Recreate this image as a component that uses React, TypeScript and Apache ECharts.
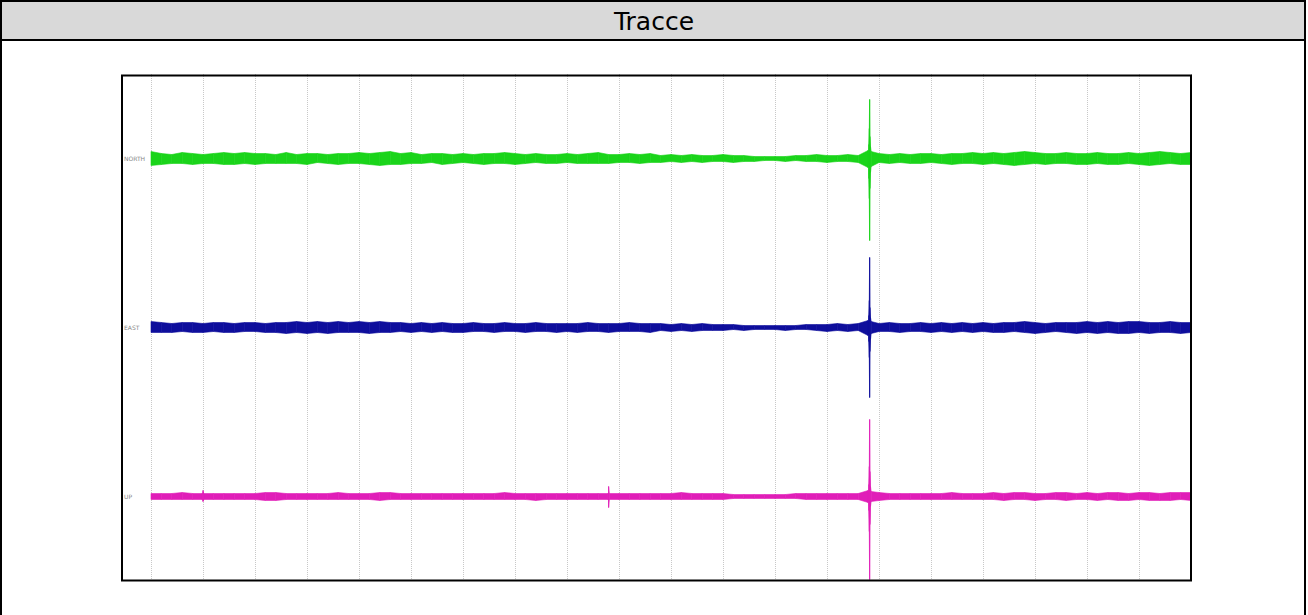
import React, { useEffect, useRef } from "react";
import * as echarts from "echarts";

const TITLE = "Tracce";
const CHANNELS = ["NORTH", "EAST", "UP"];
const CHANNEL_COLORS = ["#1ad41a", "#0e0e9c", "#e01eb8"];
const RECORD_LENGTH_S = 600;
const TIME_GRID_S = 30;
const SAMPLE_STEP_S = 6;
const COUNTS_PER_TRACE = 169;

// envelope (counts above / below the trace baseline), one value every SAMPLE_STEP_S
const NORTH_UP = [
  7, 5, 4, 6, 5, 4, 5, 6, 5, 6,
  5, 5, 4, 6, 4, 5, 5, 4, 5, 5,
  6, 5, 6, 7, 5, 6, 4, 5, 5, 4,
  5, 4, 5, 5, 6, 5, 4, 5, 4, 4,
  5, 4, 5, 6, 4, 4, 5, 4, 5, 3,
  4, 3, 4, 3, 3, 4, 3, 3, 2, 2,
  2, 2, 3, 3, 4, 3, 3, 4, 3, 4,
  5, 4, 5, 4, 5, 5, 4, 5, 5, 6,
  5, 6, 5, 6, 7, 6, 5, 5, 6, 5,
  5, 6, 5, 5, 6, 5, 6, 7, 6, 5,
  6,
];
const NORTH_LOW = [
  7, 6, 5, 5, 6, 5, 5, 6, 6, 5,
  6, 5, 5, 5, 5, 6, 4, 5, 6, 5,
  5, 6, 7, 6, 6, 5, 5, 4, 6, 5,
  4, 5, 6, 5, 5, 6, 5, 4, 5, 5,
  4, 5, 5, 5, 5, 4, 4, 5, 4, 4,
  3, 4, 3, 4, 3, 3, 4, 3, 3, 2,
  2, 3, 2, 3, 3, 4, 3, 3, 4, 5,
  4, 5, 4, 5, 5, 4, 5, 6, 5, 5,
  6, 5, 6, 7, 6, 5, 6, 5, 5, 6,
  6, 5, 6, 6, 5, 6, 7, 6, 5, 6,
  6,
];
const EAST_UP = [
  6, 5, 4, 5, 5, 4, 5, 5, 4, 5,
  5, 4, 5, 5, 6, 5, 6, 5, 6, 5,
  6, 5, 6, 5, 5, 4, 5, 4, 5, 4,
  4, 5, 4, 4, 5, 4, 4, 5, 4, 4,
  4, 4, 5, 4, 4, 4, 5, 4, 4, 4,
  3, 4, 3, 4, 3, 3, 3, 2, 2, 2,
  2, 2, 2, 3, 3, 3, 4, 3, 4, 4,
  4, 5, 4, 4, 5, 4, 5, 4, 5, 4,
  5, 4, 5, 5, 6, 5, 4, 5, 5, 5,
  6, 5, 6, 5, 6, 6, 5, 5, 6, 5,
  5,
];
const EAST_LOW = [
  5, 5, 5, 4, 5, 5, 4, 5, 5, 4,
  4, 5, 5, 6, 5, 6, 5, 6, 5, 5,
  5, 6, 5, 5, 4, 5, 4, 5, 4, 5,
  5, 4, 4, 5, 4, 4, 5, 4, 4, 5,
  4, 5, 4, 4, 5, 4, 4, 4, 5, 3,
  4, 3, 4, 3, 3, 3, 2, 3, 2, 2,
  2, 3, 2, 2, 3, 4, 3, 4, 3, 5,
  4, 4, 5, 4, 4, 5, 4, 5, 4, 5,
  4, 5, 5, 4, 5, 6, 5, 4, 5, 6,
  5, 6, 5, 6, 6, 5, 6, 5, 5, 6,
  5,
];
const UP_UP = [
  3, 3, 3, 4, 3, 4, 3, 3, 3, 3,
  3, 4, 4, 3, 3, 3, 3, 3, 4, 3,
  3, 3, 4, 4, 3, 3, 3, 3, 3, 3,
  3, 3, 3, 3, 4, 3, 3, 3, 3, 3,
  3, 3, 3, 3, 3, 3, 3, 3, 3, 3,
  3, 4, 3, 3, 3, 3, 2, 2, 2, 2,
  2, 2, 3, 3, 3, 3, 3, 3, 3, 4,
  4, 3, 3, 3, 3, 3, 3, 4, 3, 3,
  3, 4, 3, 4, 4, 3, 3, 4, 4, 3,
  4, 3, 4, 4, 3, 4, 4, 3, 4, 4,
  4,
];
const UP_LOW = [
  3, 3, 3, 3, 3, 4, 3, 3, 3, 3,
  3, 4, 4, 3, 3, 3, 3, 3, 3, 3,
  3, 3, 4, 3, 3, 3, 3, 3, 3, 3,
  3, 3, 3, 3, 3, 3, 3, 4, 3, 3,
  3, 3, 3, 3, 3, 3, 3, 3, 3, 3,
  3, 3, 3, 3, 3, 3, 2, 2, 2, 2,
  2, 2, 2, 3, 3, 3, 3, 3, 3, 4,
  4, 3, 3, 3, 3, 3, 3, 3, 3, 3,
  3, 3, 4, 3, 3, 4, 3, 3, 4, 3,
  3, 4, 3, 4, 4, 3, 4, 4, 4, 3,
  4,
];

// earthquake arrival (detail samples)
const EVENT_TIMES = [413.7, 414.1, 414.4, 414.6, 414.8, 415.1, 415.5];
const NORTH_EVENT_UP = [8, 14, 30, 59, 22, 12, 7];
const NORTH_EVENT_LOW = [9, 20, 40, 82, 30, 14, 8];
const EAST_EVENT_UP = [7, 12, 27, 70, 20, 10, 6];
const EAST_EVENT_LOW = [8, 14, 30, 70, 24, 12, 6];
const UP_EVENT_UP = [6, 12, 30, 77, 25, 10, 5];
const UP_EVENT_LOW = [6, 14, 35, 83, 28, 10, 5];

// small transients on the vertical component
const UP_TICK_TIMES = [29.6, 30.0, 30.4, 263.6, 264.0, 264.4];
const UP_TICK_UP = [3, 6, 3, 3, 10, 3];
const UP_TICK_LOW = [3, 5, 3, 3, 11, 3];

type Pt = [number, number, number];

function buildTrace(
  up: number[],
  low: number[],
  extras: { t: number[]; up: number[]; low: number[] }[]
): Pt[] {
  const pts: Pt[] = up.map((u, i) => [i * SAMPLE_STEP_S, u, low[i]]);
  extras.forEach((e) => e.t.forEach((t, i) => pts.push([t, e.up[i], e.low[i]])));
  pts.sort((a, b) => a[0] - b[0]);
  return pts;
}

const TRACES = [
  buildTrace(NORTH_UP, NORTH_LOW, [{ t: EVENT_TIMES, up: NORTH_EVENT_UP, low: NORTH_EVENT_LOW }]),
  buildTrace(EAST_UP, EAST_LOW, [{ t: EVENT_TIMES, up: EAST_EVENT_UP, low: EAST_EVENT_LOW }]),
  buildTrace(UP_UP, UP_LOW, [
    { t: UP_TICK_TIMES, up: UP_TICK_UP, low: UP_TICK_LOW },
    { t: EVENT_TIMES, up: UP_EVENT_UP, low: UP_EVENT_LOW },
  ]),
];

export default function App() {
  const ref = useRef<HTMLDivElement>(null);
  useEffect(() => {
    document.body.style.margin = "0";
    const chart = echarts.init(ref.current!, undefined, { renderer: "svg" });
    const series: any[] = TRACES.map((pts, k) => {
      const base = k + 1;
      const color = CHANNEL_COLORS[k];
      const segs: number[][] = [];
      for (let i = 0; i < pts.length - 1; i++) {
        const a = pts[i];
        const b = pts[i + 1];
        segs.push([
          a[0],
          base - a[1] / COUNTS_PER_TRACE,
          base + a[2] / COUNTS_PER_TRACE,
          b[0],
          base - b[1] / COUNTS_PER_TRACE,
          base + b[2] / COUNTS_PER_TRACE,
        ]);
      }
      return {
        type: "custom",
        name: CHANNELS[k],
        silent: true,
        encode: { x: [0, 3], y: [1, 2, 4, 5] },
        data: segs,
        renderItem: (params: any, api: any) => {
          const p0t = api.coord([api.value(0), api.value(1)]);
          const p0b = api.coord([api.value(0), api.value(2)]);
          const p1t = api.coord([api.value(3), api.value(4)]);
          const p1b = api.coord([api.value(3), api.value(5)]);
          return {
            type: "polygon",
            shape: { points: [p0t, p1t, p1b, p0b] },
            style: { fill: color, stroke: color, lineWidth: 0.6 },
          };
        },
      };
    });
    chart.setOption({
      animation: false,
      grid: { left: 151, top: 74, width: 1040, height: 507 },
      xAxis: {
        type: "value",
        min: 0,
        max: RECORD_LENGTH_S,
        interval: TIME_GRID_S,
        axisLine: { show: false },
        axisTick: { show: false },
        axisLabel: { show: false },
        splitLine: { show: true, lineStyle: { color: "#c8c8c8", type: "dotted", width: 1 } },
      },
      yAxis: {
        type: "value",
        inverse: true,
        min: 0.5,
        max: 3.5,
        interval: 0.5,
        axisLine: { show: false },
        axisTick: { show: false },
        splitLine: { show: false },
        axisLabel: {
          align: "left",
          margin: 27,
          fontSize: 6,
          color: "#888",
          fontFamily: "DejaVu Sans",
          formatter: (v: number) => (Number.isInteger(v) && v >= 1 && v <= 3 ? CHANNELS[v - 1] : ""),
        },
      },
      graphic: [
        { type: "rect", shape: { x: 1, y: 1, width: 1304, height: 640 }, style: { fill: "#fff", stroke: "#000", lineWidth: 2 }, z: -10 },
        { type: "rect", shape: { x: 1, y: 1, width: 1304, height: 39 }, style: { fill: "#d9d9d9", stroke: "#000", lineWidth: 2 }, z: -9 },
        {
          type: "text",
          x: 654,
          y: 21,
          style: { text: TITLE, fontSize: 25, fontFamily: "DejaVu Sans", fill: "#000", align: "center", verticalAlign: "middle" },
          z: 10,
        },
        { type: "rect", shape: { x: 122, y: 75.5, width: 1069, height: 505 }, style: { fill: "none", stroke: "#000", lineWidth: 2 }, z: 100 },
      ],
      series,
    });
    return () => chart.dispose();
  }, []);
  return <div ref={ref} style={{ width: 1308, height: 615 }} />;
}
